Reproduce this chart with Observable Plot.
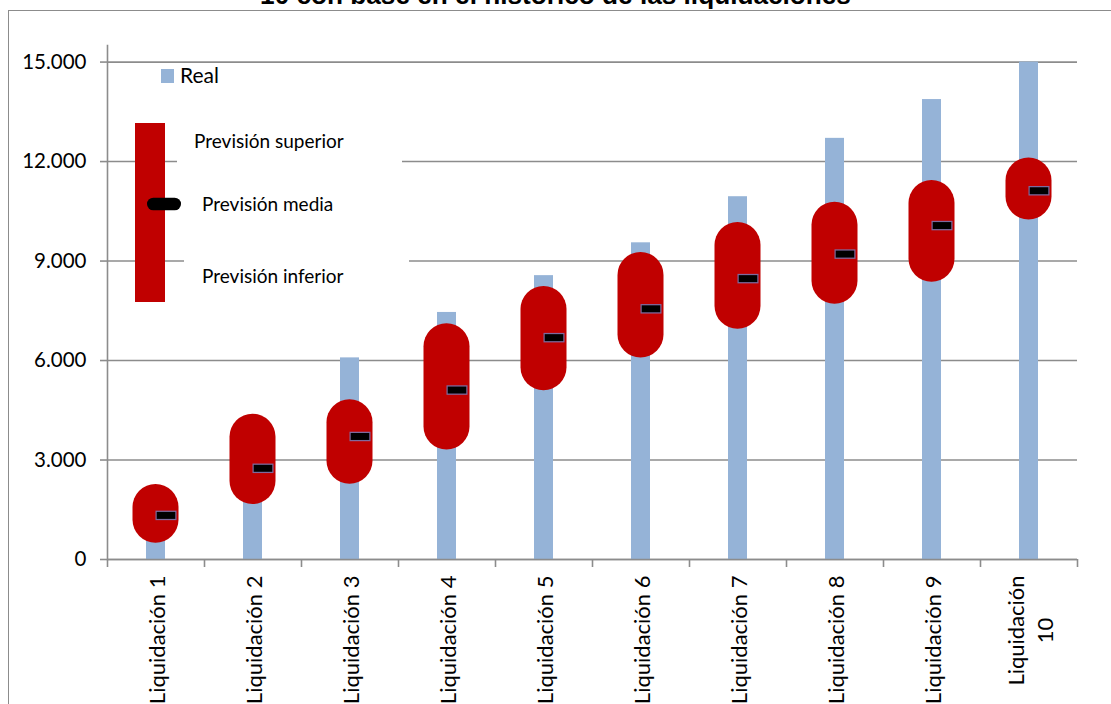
<!DOCTYPE html>
<html>
<head>
<meta charset="utf-8">
<script src="https://cdn.jsdelivr.net/npm/d3@7"></script>
<script src="https://cdn.jsdelivr.net/npm/@observablehq/plot@0.6"></script>
<style>
  html, body { margin: 0; padding: 0; background: #fff; }
  body { width: 1111px; height: 704px; overflow: hidden; position: relative; font-family: Lato, "Noto Sans", sans-serif; }
  #frame { position: absolute; left: 8px; top: 10px; width: 1200px; height: 800px; border: 1.5px solid #8c8c8c; box-sizing: border-box; }
  #chart { position: absolute; left: 0; top: 0; }
  #overlay { position: absolute; left: 0; top: 0; }
</style>
</head>
<body>
<div id="frame"></div>
<div id="chart"></div>
<svg id="overlay" width="1111" height="704"></svg>
<script>
// ---- data ----
const categories = ["Liquidación 1","Liquidación 2","Liquidación 3","Liquidación 4","Liquidación 5",
                    "Liquidación 6","Liquidación 7","Liquidación 8","Liquidación 9","Liquidación 10"];
const xLabels = ["Liquidación 1","Liquidación 2","Liquidación 3","Liquidación 4","Liquidación 5",
                 "Liquidación 6","Liquidación 7","Liquidación 8","Liquidación 9","Liquidación\n10"];
const real     = [2000, 4100, 6080, 7450, 8560, 9550, 10940, 12700, 13870, 15000];
const previsionSuperior = [2260, 4380, 4820, 7110, 8230, 9260, 10160, 10770, 11430, 12110];
const previsionInferior = [490, 1660, 2270, 3300, 5090, 6080, 6940, 7700, 8360, 10240];
const previsionMedia    = [1330, 2750, 3710, 5110, 6690, 7560, 8470, 9210, 10070, 11120];
const yTicks = [0, 3000, 6000, 9000, 12000, 15000];
const yMax = 15500;
const title = "10 con base en el histórico de las liquidaciones";
const legendReal = "Real";
const legendSup = "Previsión superior";
const legendMed = "Previsión media";
const legendInf = "Previsión inferior";

const rows = categories.map((c, i) => ({
  cat: c, label: xLabels[i], real: real[i],
  sup: previsionSuperior[i], inf: previsionInferior[i], med: previsionMedia[i]
}));

const gray = "#8c8c8c";
const fmt = d => d3.format(",")(d).replace(/,/g, ".");

const chart = Plot.plot({
  width: 1111,
  height: 704,
  marginLeft: 107,
  marginRight: 34,
  marginTop: 45,
  marginBottom: 145,
  style: { fontFamily: "Lato, 'Noto Sans', sans-serif", background: "transparent", color: "#000", overflow: "visible" },
  x: { domain: categories, padding: 0, axis: null, label: null },
  y: { domain: [0, yMax], axis: null, label: null },
  marks: [
    Plot.ruleY(yTicks, { stroke: gray, strokeWidth: 1.6 }),
    Plot.barY(rows, { x: "cat", y: "real", fill: "#95B3D7", insetLeft: 39, insetRight: 39 }),
    Plot.barY(rows, { x: "cat", y1: "inf", y2: "sup", fill: "#C00000", insetLeft: 25.5, insetRight: 25.5, rx: 23, ry: 23 }),
    Plot.tickY(rows, { x: "cat", y: "med", stroke: "#7E6A9E", strokeWidth: 9.5, insetLeft: 48.5, insetRight: 27.5 }),
    Plot.tickY(rows, { x: "cat", y: "med", stroke: "#000", strokeWidth: 7, insetLeft: 49.7, insetRight: 28.7 }),
    Plot.ruleY([yTicks[0]], { stroke: gray, strokeWidth: 1.6 }),
    Plot.frame({ anchor: "left", stroke: gray, strokeWidth: 1.6 }),
    Plot.axisY(yTicks, { tickSize: 7, tickPadding: 14, tickFormat: fmt, fontSize: 20.5, stroke: gray, strokeWidth: 1.6, fill: "#000", label: null }),
    Plot.axisX(categories, { tickSize: 8, dx: -48.5, tickFormat: () => "", stroke: gray, strokeWidth: 1.6, label: null }),
    Plot.axisX([categories[categories.length - 1]], { tickSize: 8, dx: 48.5, tickFormat: () => "", stroke: gray, strokeWidth: 1.6, label: null }),
    Plot.text(rows.filter(d => !d.label.includes("\n")), {
      x: "cat", text: "label", rotate: -90, frameAnchor: "bottom",
      textAnchor: "end", lineAnchor: "middle", dy: 16, dx: 1.5, fontSize: 22, fill: "#000"
    }),
    Plot.text(rows.filter(d => d.label.includes("\n")), {
      x: "cat", text: "label", rotate: -90, frameAnchor: "bottom",
      textAnchor: "middle", lineAnchor: "middle", lineHeight: 1.33, dy: 71, fontSize: 22, fill: "#000"
    })
  ]
});
document.getElementById("chart").appendChild(chart);

// ---- title and legend overlay ----
const ov = d3.select("#overlay");
ov.append("text").attr("x", 555.5).attr("y", 4).attr("text-anchor", "middle")
  .attr("font-family", "'Liberation Sans', Arial, sans-serif").attr("font-weight", "bold")
  .attr("font-size", 26.2).attr("fill", "#000").text(title);

ov.append("rect").attr("x", 161).attr("y", 69).attr("width", 13).attr("height", 14).attr("fill", "#95B3D7");
ov.append("text").attr("x", 180).attr("y", 83).attr("font-family", "Lato, sans-serif")
  .attr("font-size", 21).attr("fill", "#000").text(legendReal);

ov.append("rect").attr("x", 177).attr("y", 125).attr("width", 225).attr("height", 43).attr("fill", "#fff");
ov.append("rect").attr("x", 184).attr("y", 250).attr("width", 225).attr("height", 45).attr("fill", "#fff");
ov.append("rect").attr("x", 135).attr("y", 123).attr("width", 30).attr("height", 179).attr("fill", "#C00000");
ov.append("rect").attr("x", 147).attr("y", 197.7).attr("width", 34).attr("height", 12.6)
  .attr("rx", 6.3).attr("fill", "#000");
const lt = [[194, 148, legendSup], [202, 210.5, legendMed], [202, 283, legendInf]];
lt.forEach(([x, y, t]) => ov.append("text").attr("x", x).attr("y", y)
  .attr("font-family", "Lato, sans-serif").attr("font-size", 19).attr("fill", "#000").text(t));
</script>
</body>
</html>
